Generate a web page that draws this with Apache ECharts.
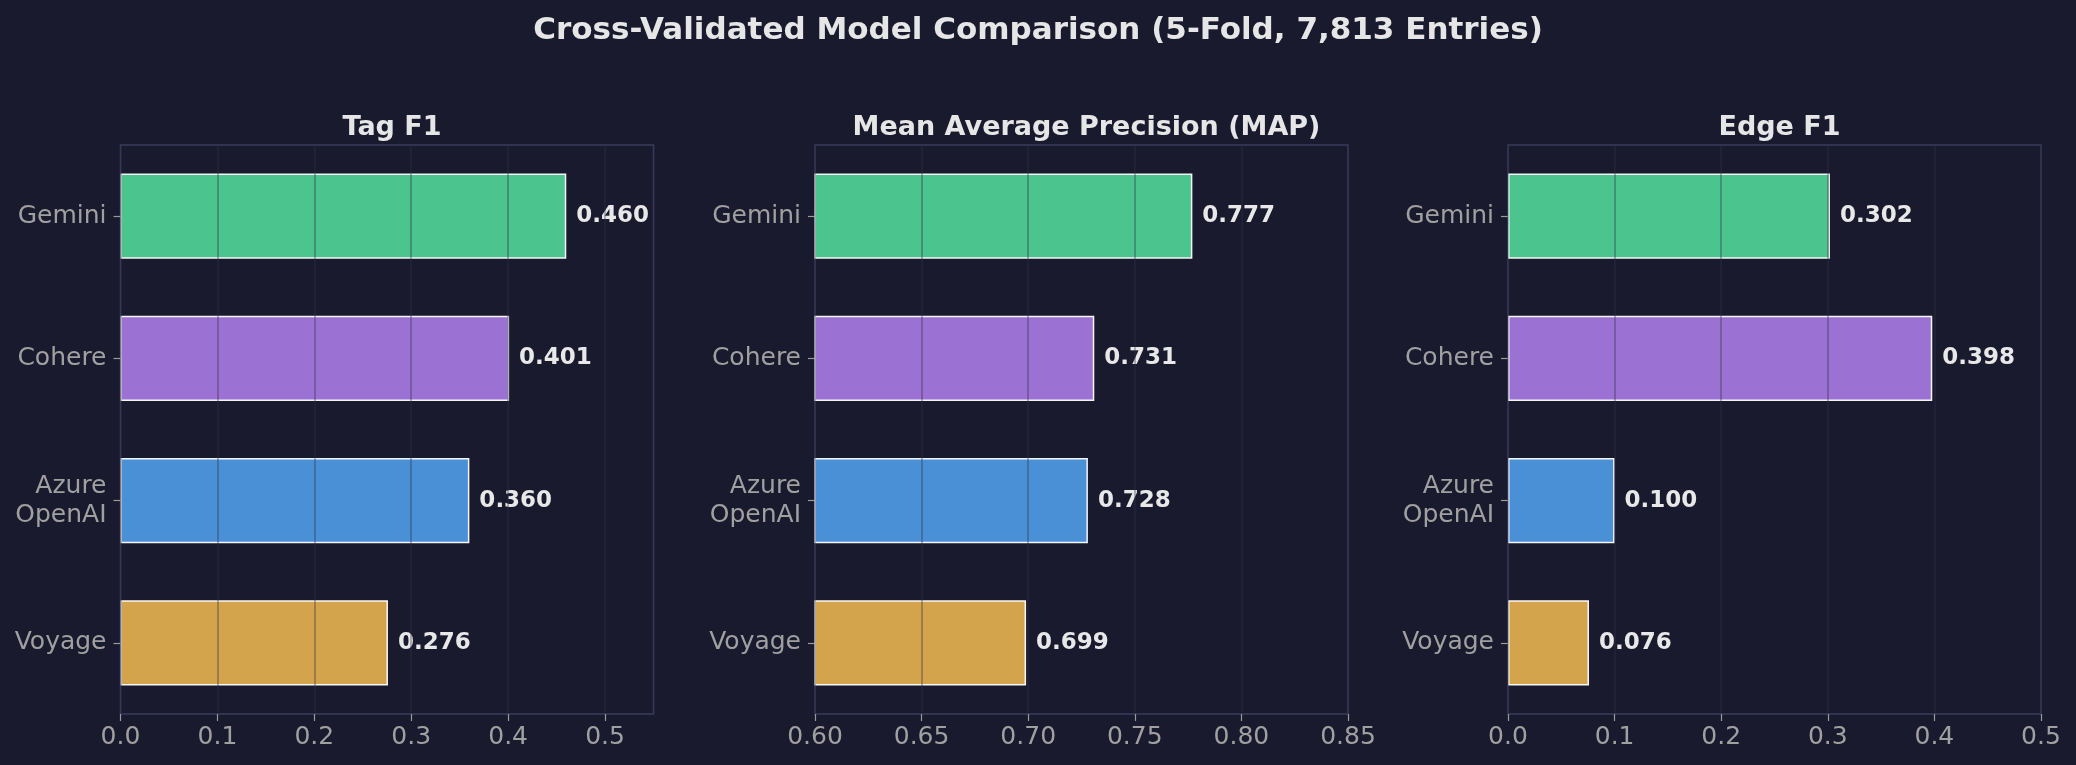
<!DOCTYPE html>
<html lang="en">
<head>
    <meta charset="UTF-8">
    <title>Cross-Validated Model Comparison</title>
    <script src="https://cdn.jsdelivr.net/npm/echarts@6.0.0/dist/echarts.min.js"></script>
    <style>
        body {
            margin: 0;
            padding: 0;
            background-color: #1a1a2e;
        }
        #chart-container {
            width: 2076px;
            height: 765px;
        }
    </style>
</head>
<body>
    <div id="chart-container"></div>

    <script>
        // data
        var models = ['Gemini', 'Cohere', 'Azure\nOpenAI', 'Voyage'];
        var tagF1 = [0.460, 0.401, 0.360, 0.276];
        var mapScore = [0.777, 0.731, 0.728, 0.699];
        var edgeF1 = [0.302, 0.398, 0.100, 0.076];
        var panelTitles = ['Tag F1', 'Mean Average Precision (MAP)', 'Edge F1'];
        var xMin = [0, 0.60, 0];
        var xMax = [0.55, 0.85, 0.5];
        var xStep = [0.1, 0.05, 0.1];
        var xDigits = [1, 2, 1];

        var barColors = ['#4bc48d', '#9b72d4', '#4a90d6', '#d4a44c'];
        var font = 'DejaVu Sans';

        var chart = echarts.init(document.getElementById('chart-container'));

        var panels = [tagF1, mapScore, edgeF1];
        var gridLeft = [120.5, 815, 1508];
        var gridWidth = 533;

        var titles = [{
            text: 'Cross-Validated Model Comparison (5-Fold, 7,813 Entries)',
            left: 'center',
            top: 10,
            textStyle: { color: '#e6e6e6', fontFamily: font, fontSize: 31, fontWeight: 'bold' }
        }];
        var grids = [], xAxes = [], yAxes = [], series = [];

        panels.forEach(function (values, i) {
            titles.push({
                text: panelTitles[i],
                left: gridLeft[i] + gridWidth / 2,
                top: 109,
                textAlign: 'center',
                textStyle: { color: '#e6e6e6', fontFamily: font, fontSize: 27, fontWeight: 'bold' }
            });
            grids.push({
                left: gridLeft[i],
                width: gridWidth,
                top: 145,
                height: 569,
                show: true,
                backgroundColor: 'transparent',
                borderColor: '#3b3b5e',
                borderWidth: 1.5
            });
            xAxes.push({
                type: 'value',
                gridIndex: i,
                min: xMin[i],
                max: xMax[i],
                interval: xStep[i],
                z: 5,
                axisLine: { show: false },
                axisTick: { show: true, length: 7, lineStyle: { color: '#9a9a9a', width: 1.2 } },
                axisLabel: {
                    color: '#a0a0a0',
                    fontFamily: font,
                    fontSize: 25,
                    margin: 11,
                    showMaxLabel: xMax[i] !== 0.55,
                    formatter: function (v) { return v.toFixed(xDigits[i]); }
                },
                splitLine: { show: true, lineStyle: { color: 'rgba(48,48,70,0.38)', width: 1.8 } }
            });
            yAxes.push({
                type: 'category',
                gridIndex: i,
                data: models,
                inverse: true,
                axisLine: { show: false },
                axisTick: { show: true, alignWithLabel: true, length: 7, lineStyle: { color: '#9a9a9a', width: 1.2 } },
                axisLabel: {
                    color: '#a0a0a0',
                    fontFamily: font,
                    fontSize: 25,
                    lineHeight: 29,
                    margin: 14,
                    align: 'right'
                },
                splitLine: { show: false }
            });
            series.push({
                type: 'bar',
                xAxisIndex: i,
                yAxisIndex: i,
                barWidth: '60%',
                data: values.map(function (v, k) {
                    return { value: v, itemStyle: { color: barColors[k] } };
                }),
                itemStyle: { borderColor: 'rgba(255,255,255,0.95)', borderWidth: 1.5 },
                label: {
                    show: true,
                    position: 'right',
                    distance: 10,
                    color: '#e8e8e8',
                    fontFamily: font,
                    fontSize: 23,
                    fontWeight: 'bold',
                    formatter: function (p) { return p.value.toFixed(3); }
                }
            });
        });

        chart.setOption({
            backgroundColor: '#1a1a2e',
            animation: false,
            title: titles,
            grid: grids,
            xAxis: xAxes,
            yAxis: yAxes,
            series: series
        });
    </script>
</body>
</html>
